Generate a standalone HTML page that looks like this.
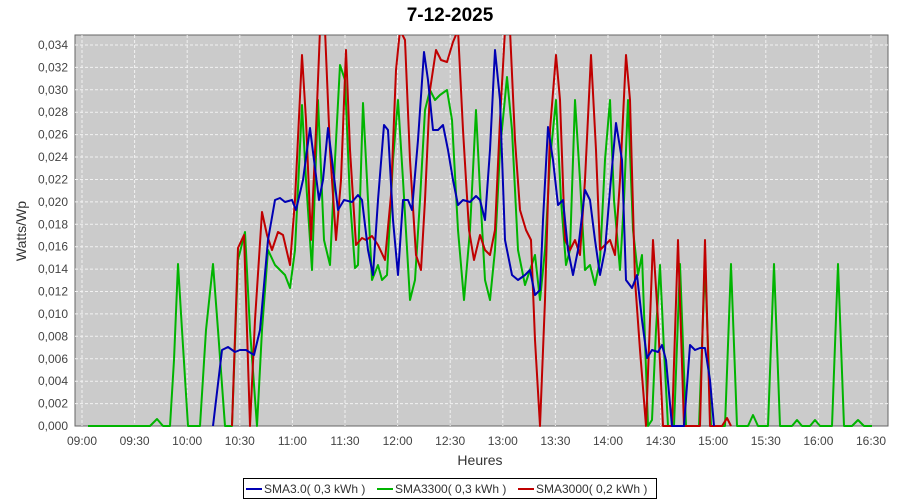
<!DOCTYPE html>
<html><head><meta charset="utf-8"><style>
body{margin:0;background:#fff;}
svg{display:block;font-family:"Liberation Sans",sans-serif;}
</style></head><body>
<svg width="900" height="500" viewBox="0 0 900 500" xmlns="http://www.w3.org/2000/svg">
<rect width="900" height="500" fill="#fff"/>
<text x="450" y="21" text-anchor="middle" font-size="19" font-weight="bold" fill="#000">7-12-2025</text>
<rect x="75" y="35" width="813" height="391" fill="#cbcbcb" stroke="#666" stroke-width="1"/>
<g stroke="#f2f2f2" stroke-width="1" stroke-dasharray="3,2">
<line x1="75" y1="45" x2="888" y2="45"/><line x1="75" y1="67.4" x2="888" y2="67.4"/><line x1="75" y1="89.8" x2="888" y2="89.8"/><line x1="75" y1="112.2" x2="888" y2="112.2"/><line x1="75" y1="134.6" x2="888" y2="134.6"/><line x1="75" y1="157" x2="888" y2="157"/><line x1="75" y1="179.5" x2="888" y2="179.5"/><line x1="75" y1="201.9" x2="888" y2="201.9"/><line x1="75" y1="224.3" x2="888" y2="224.3"/><line x1="75" y1="246.7" x2="888" y2="246.7"/><line x1="75" y1="269.1" x2="888" y2="269.1"/><line x1="75" y1="291.5" x2="888" y2="291.5"/><line x1="75" y1="313.9" x2="888" y2="313.9"/><line x1="75" y1="336.3" x2="888" y2="336.3"/><line x1="75" y1="358.8" x2="888" y2="358.8"/><line x1="75" y1="381.2" x2="888" y2="381.2"/><line x1="75" y1="403.6" x2="888" y2="403.6"/>
<line x1="82" y1="35" x2="82" y2="426"/><line x1="134.6" y1="35" x2="134.6" y2="426"/><line x1="187.2" y1="35" x2="187.2" y2="426"/><line x1="239.8" y1="35" x2="239.8" y2="426"/><line x1="292.4" y1="35" x2="292.4" y2="426"/><line x1="345" y1="35" x2="345" y2="426"/><line x1="397.6" y1="35" x2="397.6" y2="426"/><line x1="450.2" y1="35" x2="450.2" y2="426"/><line x1="502.8" y1="35" x2="502.8" y2="426"/><line x1="555.4" y1="35" x2="555.4" y2="426"/><line x1="608" y1="35" x2="608" y2="426"/><line x1="660.6" y1="35" x2="660.6" y2="426"/><line x1="713.2" y1="35" x2="713.2" y2="426"/><line x1="765.8" y1="35" x2="765.8" y2="426"/><line x1="818.4" y1="35" x2="818.4" y2="426"/><line x1="871" y1="35" x2="871" y2="426"/>
</g>
<g font-size="12" fill="#444" text-anchor="end">
<text x="68" y="49">0,034</text><text x="68" y="71.4">0,032</text><text x="68" y="93.8">0,030</text><text x="68" y="116.2">0,028</text><text x="68" y="138.6">0,026</text><text x="68" y="161">0,024</text><text x="68" y="183.5">0,022</text><text x="68" y="205.9">0,020</text><text x="68" y="228.3">0,018</text><text x="68" y="250.7">0,016</text><text x="68" y="273.1">0,014</text><text x="68" y="295.5">0,012</text><text x="68" y="317.9">0,010</text><text x="68" y="340.3">0,008</text><text x="68" y="362.8">0,006</text><text x="68" y="385.2">0,004</text><text x="68" y="407.6">0,002</text><text x="68" y="430">0,000</text>
</g>
<g font-size="12" fill="#444" text-anchor="middle">
<text x="82" y="445">09:00</text><text x="134.6" y="445">09:30</text><text x="187.2" y="445">10:00</text><text x="239.8" y="445">10:30</text><text x="292.4" y="445">11:00</text><text x="345" y="445">11:30</text><text x="397.6" y="445">12:00</text><text x="450.2" y="445">12:30</text><text x="502.8" y="445">13:00</text><text x="555.4" y="445">13:30</text><text x="608" y="445">14:00</text><text x="660.6" y="445">14:30</text><text x="713.2" y="445">15:00</text><text x="765.8" y="445">15:30</text><text x="818.4" y="445">16:00</text><text x="871" y="445">16:30</text>
</g>
<text x="480" y="465" text-anchor="middle" font-size="14" fill="#333">Heures</text>
<text transform="translate(26,231) rotate(-90)" text-anchor="middle" font-size="14" fill="#333">Watts/Wp</text>
<svg x="75" y="35" width="813" height="392" viewBox="75 35 813 392" overflow="hidden">
<g fill="none" stroke-width="2" stroke-linejoin="round">
<polyline stroke="#00b400" points="88,426 143,426 150,426 157,419 163,426 170,426 174,360 178,264 182,330 188,426 200,426 206,330 213,264 218,330 225,426 232,426 238,260 245,232 250,330 257,426 262,330 268,250 275,265 285,275 290,288 295,250 302,105 306,180 312,270 318,100 324,240 330,265 335,160 340,65 345,80 350,200 355,268 358,265 363,103 367,180 372,280 378,265 382,280 387,275 393,160 398,100 403,180 410,300 415,280 420,200 425,110 430,90 435,100 440,95 447,90 452,120 458,230 464,300 470,230 476,110 480,190 485,280 490,300 495,250 500,150 507,77 512,130 518,250 525,285 530,270 535,255 540,300 545,250 550,160 556,100 561,200 566,265 570,250 575,100 580,180 585,270 590,265 595,285 600,260 605,160 610,100 614,200 620,270 624,200 628,100 633,230 638,275 642,255 648,426 652,420 656,330 660,265 664,350 668,426 674,426 680,264 686,426 699,426 705,264 711,426 725,426 731,264 737,426 748,426 753,415 758,426 768,426 774,264 780,426 792,426 797,420 802,426 810,426 815,420 820,426 832,426 838,264 844,426 852,426 858,420 864,426 872,426"/>
<polyline stroke="#c00000" points="232,426 238,248 244,235 250,426 255,320 262,212 267,235 272,250 278,232 283,235 290,265 295,200 302,55 306,120 311,240 316,130 320,30 325,30 330,150 336,240 341,180 346,50 350,150 356,245 362,238 366,240 372,236 378,245 385,260 391,195 396,70 400,30 405,40 410,160 416,255 421,270 425,200 430,90 436,50 441,60 447,62 453,42 458,30 463,130 469,230 474,260 480,235 485,250 490,255 495,230 500,120 505,30 510,30 515,140 520,210 526,230 531,240 535,340 540,426 545,300 550,130 556,55 560,100 565,240 570,250 575,240 580,255 585,180 591,55 596,150 600,250 605,245 610,240 615,255 620,180 626,55 630,100 635,280 640,350 646,426 650,320 653,240 658,320 663,426 672,426 678,240 684,426 700,426 705,240 710,426 722,426 727,418 731,426"/>
<polyline stroke="#0000b4" points="213,426 222,350 228,347 235,352 240,350 246,350 254,355 260,330 268,240 275,200 280,198 285,202 292,200 296,210 303,180 310,128 314,160 319,200 323,180 328,128 332,160 338,210 344,200 352,202 358,195 362,200 368,250 373,275 378,200 384,125 388,130 393,220 398,275 403,200 408,200 412,210 418,140 424,52 428,80 433,130 438,130 443,125 448,150 453,180 458,205 463,200 470,202 476,196 480,200 485,220 490,150 495,50 500,100 505,240 512,275 518,280 525,275 530,270 535,295 540,290 543,220 548,127 553,160 558,205 563,200 568,250 573,275 578,250 585,190 590,200 595,240 600,275 605,250 610,190 616,123 622,160 626,280 632,288 637,275 642,320 647,358 652,350 658,352 662,345 666,360 672,426 684,426 690,345 695,350 700,348 705,348 710,380 714,426"/>
</g>
</svg>
<rect x="243.5" y="478.5" width="413" height="20" fill="#fff" stroke="#000"/>
<g font-size="12" fill="#333">
<line x1="246" y1="489" x2="262" y2="489" stroke="#0000b4" stroke-width="2"/><text x="264" y="493">SMA3.0( 0,3 kWh )</text>
<line x1="377" y1="489" x2="393" y2="489" stroke="#00b400" stroke-width="2"/><text x="395" y="493">SMA3300( 0,3 kWh )</text>
<line x1="518" y1="489" x2="534" y2="489" stroke="#c00000" stroke-width="2"/><text x="536" y="493">SMA3000( 0,2 kWh )</text>
</g>
</svg>
</body></html>
